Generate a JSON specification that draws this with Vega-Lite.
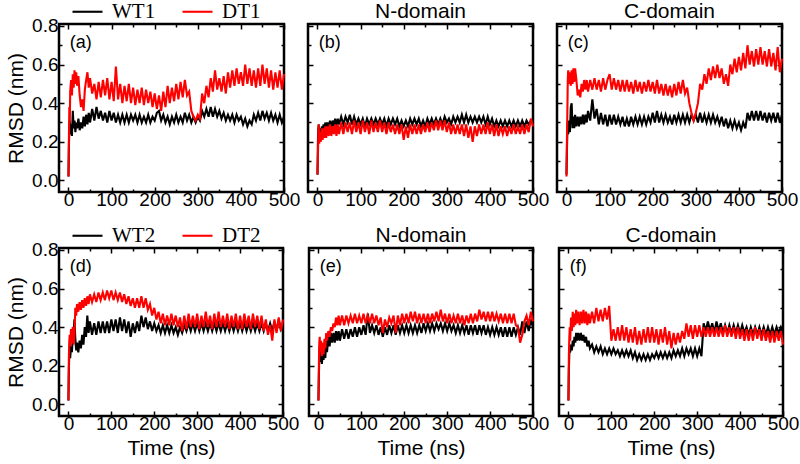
{
"$schema":"https://vega.github.io/schema/vega-lite/v6.json",
"background":"white",
"padding":{"left":4,"top":-5,"right":2,"bottom":4},
"config":{
 "view":{"stroke":"black","strokeWidth":2.5},
 "font":"Liberation Sans",
 "line":{"strokeWidth":2.1},
 "axis":{"domain":false,"grid":false,"tickColor":"black","tickWidth":1.5,"labelColor":"black","labelFont":"Liberation Sans","labelFontSize":19,"titleFont":"Liberation Sans","titleFontSize":21,"titleFontWeight":"normal","titleColor":"black","labelFlush":false,"labelOverlap":false},
 "title":{"font":"Liberation Sans","fontSize":21,"fontWeight":"normal","color":"black","offset":1,"anchor":"middle"}
},
"datasets":{
"a":[{"t":0,"w":0.02,"d":0.02},{"t":1,"w":0.18,"d":0.22},{"t":2,"w":0.27,"d":0.38},{"t":3,"w":0.31,"d":0.30},{"t":4,"w":0.24,"d":0.46},{"t":6,"w":0.29,"d":0.52},{"t":8,"w":0.23,"d":0.44},{"t":10,"w":0.36,"d":0.55},{"t":12,"w":0.27,"d":0.48},{"t":14,"w":0.31,"d":0.57},{"t":16,"w":0.25,"d":0.50},{"t":18,"w":0.30,"d":0.56},{"t":20,"w":0.27,"d":0.49},{"t":23,"w":0.32,"d":0.54},{"t":26,"w":0.26,"d":0.44},{"t":29,"w":0.30,"d":0.38},{"t":32,"w":0.27,"d":0.42},{"t":35,"w":0.33,"d":0.36},{"t":38,"w":0.28,"d":0.47},{"t":41,"w":0.34,"d":0.52},{"t":44,"w":0.29,"d":0.56},{"t":47,"w":0.35,"d":0.48},{"t":50,"w":0.30,"d":0.53},{"t":55,"w":0.37,"d":0.45},{"t":60,"w":0.31,"d":0.50},{"t":65,"w":0.38,"d":0.42},{"t":70,"w":0.32,"d":0.51},{"t":75,"w":0.36,"d":0.43},{"t":80,"w":0.31,"d":0.52},{"t":85,"w":0.35,"d":0.44},{"t":90,"w":0.30,"d":0.53},{"t":95,"w":0.36,"d":0.42},{"t":100,"w":0.31,"d":0.51},{"t":105,"w":0.35,"d":0.41},{"t":110,"w":0.30,"d":0.59},{"t":115,"w":0.34,"d":0.42},{"t":120,"w":0.30,"d":0.50},{"t":125,"w":0.34,"d":0.40},{"t":130,"w":0.30,"d":0.49},{"t":135,"w":0.34,"d":0.41},{"t":140,"w":0.30,"d":0.50},{"t":145,"w":0.34,"d":0.40},{"t":150,"w":0.31,"d":0.48},{"t":155,"w":0.34,"d":0.39},{"t":160,"w":0.30,"d":0.47},{"t":165,"w":0.34,"d":0.40},{"t":170,"w":0.30,"d":0.48},{"t":175,"w":0.33,"d":0.39},{"t":180,"w":0.30,"d":0.47},{"t":185,"w":0.34,"d":0.40},{"t":190,"w":0.30,"d":0.46},{"t":195,"w":0.33,"d":0.38},{"t":200,"w":0.31,"d":0.45},{"t":205,"w":0.35,"d":0.37},{"t":210,"w":0.36,"d":0.44},{"t":215,"w":0.31,"d":0.36},{"t":220,"w":0.34,"d":0.46},{"t":225,"w":0.30,"d":0.38},{"t":230,"w":0.33,"d":0.49},{"t":235,"w":0.29,"d":0.40},{"t":240,"w":0.33,"d":0.48},{"t":245,"w":0.30,"d":0.41},{"t":250,"w":0.34,"d":0.50},{"t":255,"w":0.30,"d":0.42},{"t":260,"w":0.33,"d":0.51},{"t":265,"w":0.30,"d":0.43},{"t":270,"w":0.35,"d":0.52},{"t":275,"w":0.31,"d":0.44},{"t":280,"w":0.34,"d":0.46},{"t":285,"w":0.30,"d":0.36},{"t":290,"w":0.33,"d":0.33},{"t":295,"w":0.30,"d":0.31},{"t":300,"w":0.33,"d":0.34},{"t":305,"w":0.31,"d":0.32},{"t":310,"w":0.36,"d":0.45},{"t":315,"w":0.33,"d":0.40},{"t":320,"w":0.37,"d":0.49},{"t":325,"w":0.33,"d":0.43},{"t":330,"w":0.38,"d":0.53},{"t":335,"w":0.33,"d":0.46},{"t":340,"w":0.37,"d":0.57},{"t":345,"w":0.33,"d":0.47},{"t":350,"w":0.36,"d":0.53},{"t":355,"w":0.32,"d":0.46},{"t":360,"w":0.35,"d":0.54},{"t":365,"w":0.31,"d":0.45},{"t":370,"w":0.34,"d":0.56},{"t":375,"w":0.31,"d":0.48},{"t":380,"w":0.34,"d":0.57},{"t":385,"w":0.30,"d":0.49},{"t":390,"w":0.34,"d":0.58},{"t":395,"w":0.31,"d":0.50},{"t":400,"w":0.33,"d":0.56},{"t":405,"w":0.29,"d":0.49},{"t":410,"w":0.32,"d":0.60},{"t":415,"w":0.28,"d":0.50},{"t":420,"w":0.31,"d":0.58},{"t":425,"w":0.29,"d":0.49},{"t":430,"w":0.34,"d":0.57},{"t":435,"w":0.31,"d":0.48},{"t":440,"w":0.35,"d":0.58},{"t":445,"w":0.31,"d":0.49},{"t":450,"w":0.36,"d":0.60},{"t":455,"w":0.32,"d":0.50},{"t":460,"w":0.35,"d":0.58},{"t":465,"w":0.31,"d":0.48},{"t":470,"w":0.35,"d":0.57},{"t":475,"w":0.31,"d":0.47},{"t":480,"w":0.34,"d":0.56},{"t":485,"w":0.30,"d":0.48},{"t":490,"w":0.34,"d":0.57},{"t":495,"w":0.30,"d":0.47},{"t":500,"w":0.33,"d":0.55}],
"b":[{"t":0,"w":0.03,"d":0.03},{"t":1,"w":0.20,"d":0.12},{"t":2,"w":0.27,"d":0.24},{"t":3,"w":0.29,"d":0.29},{"t":4,"w":0.22,"d":0.19},{"t":6,"w":0.27,"d":0.25},{"t":8,"w":0.21,"d":0.20},{"t":10,"w":0.28,"d":0.27},{"t":12,"w":0.24,"d":0.21},{"t":14,"w":0.29,"d":0.27},{"t":16,"w":0.25,"d":0.22},{"t":18,"w":0.30,"d":0.28},{"t":20,"w":0.26,"d":0.22},{"t":23,"w":0.30,"d":0.28},{"t":26,"w":0.27,"d":0.23},{"t":29,"w":0.31,"d":0.29},{"t":32,"w":0.27,"d":0.23},{"t":35,"w":0.31,"d":0.28},{"t":38,"w":0.28,"d":0.24},{"t":41,"w":0.32,"d":0.29},{"t":44,"w":0.28,"d":0.23},{"t":47,"w":0.32,"d":0.29},{"t":50,"w":0.29,"d":0.24},{"t":55,"w":0.33,"d":0.30},{"t":60,"w":0.29,"d":0.24},{"t":65,"w":0.33,"d":0.30},{"t":70,"w":0.30,"d":0.25},{"t":75,"w":0.34,"d":0.30},{"t":80,"w":0.29,"d":0.24},{"t":85,"w":0.33,"d":0.31},{"t":90,"w":0.29,"d":0.25},{"t":95,"w":0.32,"d":0.30},{"t":100,"w":0.29,"d":0.24},{"t":105,"w":0.32,"d":0.31},{"t":110,"w":0.28,"d":0.25},{"t":115,"w":0.32,"d":0.30},{"t":120,"w":0.29,"d":0.24},{"t":125,"w":0.32,"d":0.31},{"t":130,"w":0.29,"d":0.25},{"t":135,"w":0.32,"d":0.30},{"t":140,"w":0.29,"d":0.25},{"t":145,"w":0.32,"d":0.31},{"t":150,"w":0.29,"d":0.25},{"t":155,"w":0.32,"d":0.30},{"t":160,"w":0.28,"d":0.24},{"t":165,"w":0.32,"d":0.30},{"t":170,"w":0.29,"d":0.25},{"t":175,"w":0.32,"d":0.29},{"t":180,"w":0.29,"d":0.24},{"t":185,"w":0.32,"d":0.29},{"t":190,"w":0.28,"d":0.24},{"t":195,"w":0.31,"d":0.29},{"t":200,"w":0.28,"d":0.21},{"t":205,"w":0.31,"d":0.28},{"t":210,"w":0.28,"d":0.22},{"t":215,"w":0.32,"d":0.29},{"t":220,"w":0.29,"d":0.24},{"t":225,"w":0.32,"d":0.29},{"t":230,"w":0.29,"d":0.24},{"t":235,"w":0.32,"d":0.29},{"t":240,"w":0.28,"d":0.24},{"t":245,"w":0.31,"d":0.29},{"t":250,"w":0.28,"d":0.25},{"t":255,"w":0.32,"d":0.30},{"t":260,"w":0.29,"d":0.25},{"t":265,"w":0.32,"d":0.30},{"t":270,"w":0.29,"d":0.26},{"t":275,"w":0.32,"d":0.31},{"t":280,"w":0.29,"d":0.26},{"t":285,"w":0.32,"d":0.31},{"t":290,"w":0.29,"d":0.26},{"t":295,"w":0.33,"d":0.31},{"t":300,"w":0.30,"d":0.25},{"t":305,"w":0.32,"d":0.30},{"t":310,"w":0.29,"d":0.24},{"t":315,"w":0.33,"d":0.29},{"t":320,"w":0.30,"d":0.24},{"t":325,"w":0.33,"d":0.29},{"t":330,"w":0.30,"d":0.24},{"t":335,"w":0.34,"d":0.29},{"t":340,"w":0.30,"d":0.23},{"t":345,"w":0.34,"d":0.29},{"t":350,"w":0.30,"d":0.22},{"t":355,"w":0.33,"d":0.28},{"t":360,"w":0.30,"d":0.20},{"t":365,"w":0.33,"d":0.28},{"t":370,"w":0.30,"d":0.23},{"t":375,"w":0.33,"d":0.29},{"t":380,"w":0.30,"d":0.24},{"t":385,"w":0.33,"d":0.29},{"t":390,"w":0.29,"d":0.24},{"t":395,"w":0.33,"d":0.30},{"t":400,"w":0.29,"d":0.24},{"t":405,"w":0.32,"d":0.29},{"t":410,"w":0.28,"d":0.23},{"t":415,"w":0.31,"d":0.29},{"t":420,"w":0.28,"d":0.23},{"t":425,"w":0.31,"d":0.28},{"t":430,"w":0.28,"d":0.24},{"t":435,"w":0.31,"d":0.28},{"t":440,"w":0.28,"d":0.23},{"t":445,"w":0.31,"d":0.28},{"t":450,"w":0.28,"d":0.24},{"t":455,"w":0.31,"d":0.29},{"t":460,"w":0.28,"d":0.24},{"t":465,"w":0.31,"d":0.28},{"t":470,"w":0.28,"d":0.24},{"t":475,"w":0.31,"d":0.29},{"t":480,"w":0.28,"d":0.24},{"t":485,"w":0.31,"d":0.29},{"t":490,"w":0.29,"d":0.25},{"t":495,"w":0.31,"d":0.32},{"t":500,"w":0.29,"d":0.28}],
"c":[{"t":0,"w":0.03,"d":0.02},{"t":1,"w":0.15,"d":0.20},{"t":2,"w":0.26,"d":0.35},{"t":3,"w":0.30,"d":0.52},{"t":4,"w":0.24,"d":0.57},{"t":6,"w":0.31,"d":0.50},{"t":8,"w":0.25,"d":0.56},{"t":10,"w":0.38,"d":0.49},{"t":12,"w":0.40,"d":0.57},{"t":14,"w":0.27,"d":0.50},{"t":16,"w":0.33,"d":0.58},{"t":18,"w":0.27,"d":0.51},{"t":20,"w":0.34,"d":0.58},{"t":23,"w":0.28,"d":0.52},{"t":26,"w":0.33,"d":0.44},{"t":29,"w":0.28,"d":0.47},{"t":32,"w":0.33,"d":0.43},{"t":35,"w":0.29,"d":0.50},{"t":38,"w":0.34,"d":0.46},{"t":41,"w":0.29,"d":0.52},{"t":44,"w":0.34,"d":0.47},{"t":47,"w":0.30,"d":0.52},{"t":50,"w":0.36,"d":0.46},{"t":55,"w":0.31,"d":0.52},{"t":60,"w":0.42,"d":0.47},{"t":65,"w":0.32,"d":0.53},{"t":70,"w":0.37,"d":0.47},{"t":75,"w":0.29,"d":0.52},{"t":80,"w":0.35,"d":0.46},{"t":85,"w":0.29,"d":0.53},{"t":90,"w":0.34,"d":0.47},{"t":95,"w":0.28,"d":0.52},{"t":100,"w":0.34,"d":0.55},{"t":105,"w":0.29,"d":0.47},{"t":110,"w":0.34,"d":0.53},{"t":115,"w":0.29,"d":0.47},{"t":120,"w":0.33,"d":0.52},{"t":125,"w":0.29,"d":0.46},{"t":130,"w":0.33,"d":0.52},{"t":135,"w":0.28,"d":0.46},{"t":140,"w":0.32,"d":0.52},{"t":145,"w":0.28,"d":0.46},{"t":150,"w":0.33,"d":0.51},{"t":155,"w":0.29,"d":0.45},{"t":160,"w":0.33,"d":0.52},{"t":165,"w":0.29,"d":0.46},{"t":170,"w":0.33,"d":0.51},{"t":175,"w":0.29,"d":0.45},{"t":180,"w":0.33,"d":0.51},{"t":185,"w":0.29,"d":0.46},{"t":190,"w":0.33,"d":0.52},{"t":195,"w":0.30,"d":0.46},{"t":200,"w":0.35,"d":0.51},{"t":205,"w":0.30,"d":0.45},{"t":210,"w":0.36,"d":0.52},{"t":215,"w":0.30,"d":0.45},{"t":220,"w":0.34,"d":0.50},{"t":225,"w":0.30,"d":0.44},{"t":230,"w":0.34,"d":0.50},{"t":235,"w":0.30,"d":0.44},{"t":240,"w":0.33,"d":0.49},{"t":245,"w":0.29,"d":0.43},{"t":250,"w":0.34,"d":0.50},{"t":255,"w":0.30,"d":0.44},{"t":260,"w":0.34,"d":0.51},{"t":265,"w":0.30,"d":0.45},{"t":270,"w":0.34,"d":0.52},{"t":275,"w":0.30,"d":0.45},{"t":280,"w":0.34,"d":0.48},{"t":285,"w":0.30,"d":0.40},{"t":290,"w":0.34,"d":0.35},{"t":295,"w":0.31,"d":0.31},{"t":300,"w":0.34,"d":0.35},{"t":305,"w":0.30,"d":0.40},{"t":310,"w":0.35,"d":0.50},{"t":315,"w":0.30,"d":0.47},{"t":320,"w":0.34,"d":0.55},{"t":325,"w":0.30,"d":0.50},{"t":330,"w":0.34,"d":0.58},{"t":335,"w":0.30,"d":0.52},{"t":340,"w":0.34,"d":0.59},{"t":345,"w":0.30,"d":0.53},{"t":350,"w":0.33,"d":0.60},{"t":355,"w":0.29,"d":0.53},{"t":360,"w":0.33,"d":0.58},{"t":365,"w":0.28,"d":0.50},{"t":370,"w":0.32,"d":0.55},{"t":375,"w":0.27,"d":0.49},{"t":380,"w":0.31,"d":0.60},{"t":385,"w":0.27,"d":0.55},{"t":390,"w":0.31,"d":0.63},{"t":395,"w":0.27,"d":0.56},{"t":400,"w":0.30,"d":0.64},{"t":405,"w":0.26,"d":0.57},{"t":410,"w":0.30,"d":0.66},{"t":415,"w":0.27,"d":0.58},{"t":420,"w":0.35,"d":0.70},{"t":425,"w":0.31,"d":0.60},{"t":430,"w":0.36,"d":0.67},{"t":435,"w":0.31,"d":0.59},{"t":440,"w":0.36,"d":0.68},{"t":445,"w":0.31,"d":0.60},{"t":450,"w":0.36,"d":0.69},{"t":455,"w":0.31,"d":0.60},{"t":460,"w":0.35,"d":0.67},{"t":465,"w":0.30,"d":0.59},{"t":470,"w":0.35,"d":0.68},{"t":475,"w":0.31,"d":0.59},{"t":480,"w":0.35,"d":0.66},{"t":485,"w":0.30,"d":0.57},{"t":490,"w":0.35,"d":0.69},{"t":495,"w":0.30,"d":0.56},{"t":500,"w":0.34,"d":0.63}],
"d":[{"t":0,"w":0.02,"d":0.02},{"t":1,"w":0.18,"d":0.24},{"t":2,"w":0.27,"d":0.33},{"t":3,"w":0.31,"d":0.36},{"t":4,"w":0.24,"d":0.30},{"t":6,"w":0.30,"d":0.39},{"t":8,"w":0.27,"d":0.32},{"t":10,"w":0.34,"d":0.40},{"t":12,"w":0.38,"d":0.31},{"t":14,"w":0.44,"d":0.36},{"t":16,"w":0.34,"d":0.50},{"t":18,"w":0.28,"d":0.46},{"t":20,"w":0.32,"d":0.52},{"t":23,"w":0.27,"d":0.48},{"t":26,"w":0.33,"d":0.53},{"t":29,"w":0.29,"d":0.49},{"t":32,"w":0.36,"d":0.54},{"t":35,"w":0.31,"d":0.50},{"t":38,"w":0.40,"d":0.55},{"t":41,"w":0.35,"d":0.51},{"t":44,"w":0.46,"d":0.56},{"t":47,"w":0.37,"d":0.52},{"t":50,"w":0.43,"d":0.57},{"t":55,"w":0.36,"d":0.53},{"t":60,"w":0.42,"d":0.57},{"t":65,"w":0.36,"d":0.53},{"t":70,"w":0.43,"d":0.58},{"t":75,"w":0.37,"d":0.54},{"t":80,"w":0.43,"d":0.58},{"t":85,"w":0.37,"d":0.54},{"t":90,"w":0.43,"d":0.59},{"t":95,"w":0.37,"d":0.55},{"t":100,"w":0.44,"d":0.59},{"t":105,"w":0.38,"d":0.54},{"t":110,"w":0.44,"d":0.58},{"t":115,"w":0.37,"d":0.54},{"t":120,"w":0.45,"d":0.58},{"t":125,"w":0.38,"d":0.53},{"t":130,"w":0.44,"d":0.57},{"t":135,"w":0.37,"d":0.52},{"t":140,"w":0.43,"d":0.56},{"t":145,"w":0.35,"d":0.51},{"t":150,"w":0.42,"d":0.55},{"t":155,"w":0.37,"d":0.50},{"t":160,"w":0.43,"d":0.55},{"t":165,"w":0.38,"d":0.50},{"t":170,"w":0.46,"d":0.56},{"t":175,"w":0.40,"d":0.50},{"t":180,"w":0.45,"d":0.55},{"t":185,"w":0.39,"d":0.49},{"t":190,"w":0.43,"d":0.52},{"t":195,"w":0.38,"d":0.46},{"t":200,"w":0.42,"d":0.50},{"t":205,"w":0.38,"d":0.44},{"t":210,"w":0.41,"d":0.48},{"t":215,"w":0.37,"d":0.42},{"t":220,"w":0.41,"d":0.47},{"t":225,"w":0.37,"d":0.41},{"t":230,"w":0.41,"d":0.46},{"t":235,"w":0.37,"d":0.41},{"t":240,"w":0.41,"d":0.47},{"t":245,"w":0.37,"d":0.41},{"t":250,"w":0.40,"d":0.46},{"t":255,"w":0.36,"d":0.40},{"t":260,"w":0.40,"d":0.45},{"t":265,"w":0.37,"d":0.38},{"t":270,"w":0.41,"d":0.46},{"t":275,"w":0.38,"d":0.39},{"t":280,"w":0.42,"d":0.47},{"t":285,"w":0.38,"d":0.40},{"t":290,"w":0.42,"d":0.46},{"t":295,"w":0.38,"d":0.40},{"t":300,"w":0.42,"d":0.47},{"t":305,"w":0.38,"d":0.39},{"t":310,"w":0.42,"d":0.46},{"t":315,"w":0.38,"d":0.40},{"t":320,"w":0.42,"d":0.48},{"t":325,"w":0.38,"d":0.40},{"t":330,"w":0.42,"d":0.46},{"t":335,"w":0.38,"d":0.39},{"t":340,"w":0.42,"d":0.47},{"t":345,"w":0.38,"d":0.40},{"t":350,"w":0.42,"d":0.48},{"t":355,"w":0.38,"d":0.40},{"t":360,"w":0.42,"d":0.46},{"t":365,"w":0.38,"d":0.40},{"t":370,"w":0.42,"d":0.47},{"t":375,"w":0.38,"d":0.39},{"t":380,"w":0.42,"d":0.46},{"t":385,"w":0.38,"d":0.40},{"t":390,"w":0.42,"d":0.47},{"t":395,"w":0.38,"d":0.39},{"t":400,"w":0.42,"d":0.46},{"t":405,"w":0.38,"d":0.39},{"t":410,"w":0.42,"d":0.47},{"t":415,"w":0.38,"d":0.40},{"t":420,"w":0.42,"d":0.46},{"t":425,"w":0.38,"d":0.39},{"t":430,"w":0.42,"d":0.47},{"t":435,"w":0.38,"d":0.40},{"t":440,"w":0.42,"d":0.46},{"t":445,"w":0.38,"d":0.39},{"t":450,"w":0.42,"d":0.46},{"t":455,"w":0.38,"d":0.38},{"t":460,"w":0.42,"d":0.44},{"t":465,"w":0.38,"d":0.36},{"t":470,"w":0.42,"d":0.41},{"t":475,"w":0.38,"d":0.33},{"t":480,"w":0.43,"d":0.44},{"t":485,"w":0.38,"d":0.37},{"t":490,"w":0.44,"d":0.45},{"t":495,"w":0.39,"d":0.38},{"t":500,"w":0.42,"d":0.44}],
"e":[{"t":0,"w":0.02,"d":0.02},{"t":1,"w":0.14,"d":0.20},{"t":2,"w":0.26,"d":0.32},{"t":3,"w":0.30,"d":0.35},{"t":4,"w":0.22,"d":0.27},{"t":6,"w":0.28,"d":0.33},{"t":8,"w":0.21,"d":0.25},{"t":10,"w":0.27,"d":0.32},{"t":12,"w":0.23,"d":0.26},{"t":14,"w":0.30,"d":0.34},{"t":16,"w":0.24,"d":0.29},{"t":18,"w":0.33,"d":0.37},{"t":20,"w":0.27,"d":0.33},{"t":23,"w":0.35,"d":0.38},{"t":26,"w":0.30,"d":0.35},{"t":29,"w":0.37,"d":0.40},{"t":32,"w":0.32,"d":0.38},{"t":35,"w":0.37,"d":0.42},{"t":38,"w":0.32,"d":0.40},{"t":41,"w":0.38,"d":0.45},{"t":44,"w":0.33,"d":0.41},{"t":47,"w":0.38,"d":0.46},{"t":50,"w":0.33,"d":0.41},{"t":55,"w":0.39,"d":0.46},{"t":60,"w":0.34,"d":0.41},{"t":65,"w":0.39,"d":0.46},{"t":70,"w":0.34,"d":0.42},{"t":75,"w":0.39,"d":0.46},{"t":80,"w":0.35,"d":0.42},{"t":85,"w":0.40,"d":0.47},{"t":90,"w":0.35,"d":0.42},{"t":95,"w":0.40,"d":0.46},{"t":100,"w":0.36,"d":0.42},{"t":105,"w":0.41,"d":0.47},{"t":110,"w":0.36,"d":0.42},{"t":115,"w":0.47,"d":0.46},{"t":120,"w":0.37,"d":0.42},{"t":125,"w":0.41,"d":0.47},{"t":130,"w":0.37,"d":0.42},{"t":135,"w":0.41,"d":0.46},{"t":140,"w":0.36,"d":0.41},{"t":145,"w":0.40,"d":0.45},{"t":150,"w":0.35,"d":0.37},{"t":155,"w":0.40,"d":0.44},{"t":160,"w":0.36,"d":0.40},{"t":165,"w":0.41,"d":0.45},{"t":170,"w":0.37,"d":0.42},{"t":175,"w":0.41,"d":0.46},{"t":180,"w":0.36,"d":0.37},{"t":185,"w":0.41,"d":0.46},{"t":190,"w":0.37,"d":0.41},{"t":195,"w":0.41,"d":0.47},{"t":200,"w":0.37,"d":0.42},{"t":205,"w":0.41,"d":0.47},{"t":210,"w":0.37,"d":0.42},{"t":215,"w":0.41,"d":0.48},{"t":220,"w":0.37,"d":0.43},{"t":225,"w":0.41,"d":0.48},{"t":230,"w":0.37,"d":0.42},{"t":235,"w":0.41,"d":0.47},{"t":240,"w":0.37,"d":0.42},{"t":245,"w":0.42,"d":0.47},{"t":250,"w":0.38,"d":0.42},{"t":255,"w":0.42,"d":0.47},{"t":260,"w":0.38,"d":0.42},{"t":265,"w":0.42,"d":0.47},{"t":270,"w":0.38,"d":0.43},{"t":275,"w":0.42,"d":0.48},{"t":280,"w":0.39,"d":0.43},{"t":285,"w":0.42,"d":0.49},{"t":290,"w":0.38,"d":0.43},{"t":295,"w":0.42,"d":0.47},{"t":300,"w":0.38,"d":0.42},{"t":305,"w":0.42,"d":0.47},{"t":310,"w":0.38,"d":0.42},{"t":315,"w":0.41,"d":0.46},{"t":320,"w":0.37,"d":0.42},{"t":325,"w":0.41,"d":0.47},{"t":330,"w":0.37,"d":0.42},{"t":335,"w":0.41,"d":0.46},{"t":340,"w":0.37,"d":0.41},{"t":345,"w":0.41,"d":0.46},{"t":350,"w":0.36,"d":0.42},{"t":355,"w":0.41,"d":0.47},{"t":360,"w":0.37,"d":0.42},{"t":365,"w":0.41,"d":0.47},{"t":370,"w":0.36,"d":0.43},{"t":375,"w":0.41,"d":0.49},{"t":380,"w":0.37,"d":0.44},{"t":385,"w":0.41,"d":0.48},{"t":390,"w":0.36,"d":0.43},{"t":395,"w":0.40,"d":0.48},{"t":400,"w":0.36,"d":0.43},{"t":405,"w":0.40,"d":0.48},{"t":410,"w":0.36,"d":0.43},{"t":415,"w":0.40,"d":0.47},{"t":420,"w":0.36,"d":0.43},{"t":425,"w":0.40,"d":0.47},{"t":430,"w":0.35,"d":0.42},{"t":435,"w":0.40,"d":0.47},{"t":440,"w":0.35,"d":0.42},{"t":445,"w":0.40,"d":0.47},{"t":450,"w":0.35,"d":0.42},{"t":455,"w":0.40,"d":0.47},{"t":460,"w":0.36,"d":0.41},{"t":465,"w":0.40,"d":0.40},{"t":470,"w":0.36,"d":0.32},{"t":475,"w":0.43,"d":0.36},{"t":480,"w":0.37,"d":0.43},{"t":485,"w":0.43,"d":0.46},{"t":490,"w":0.38,"d":0.41},{"t":495,"w":0.44,"d":0.48},{"t":500,"w":0.40,"d":0.43}],
"f":[{"t":0,"w":0.02,"d":0.02},{"t":1,"w":0.18,"d":0.25},{"t":2,"w":0.26,"d":0.34},{"t":3,"w":0.29,"d":0.40},{"t":4,"w":0.27,"d":0.33},{"t":6,"w":0.31,"d":0.45},{"t":8,"w":0.28,"d":0.38},{"t":10,"w":0.33,"d":0.48},{"t":12,"w":0.30,"d":0.40},{"t":14,"w":0.35,"d":0.47},{"t":16,"w":0.32,"d":0.41},{"t":18,"w":0.37,"d":0.49},{"t":20,"w":0.33,"d":0.42},{"t":23,"w":0.37,"d":0.48},{"t":26,"w":0.33,"d":0.41},{"t":29,"w":0.37,"d":0.48},{"t":32,"w":0.33,"d":0.42},{"t":35,"w":0.36,"d":0.49},{"t":38,"w":0.32,"d":0.42},{"t":41,"w":0.35,"d":0.48},{"t":44,"w":0.30,"d":0.41},{"t":47,"w":0.33,"d":0.47},{"t":50,"w":0.29,"d":0.42},{"t":55,"w":0.31,"d":0.48},{"t":60,"w":0.27,"d":0.42},{"t":65,"w":0.30,"d":0.50},{"t":70,"w":0.27,"d":0.43},{"t":75,"w":0.30,"d":0.49},{"t":80,"w":0.26,"d":0.43},{"t":85,"w":0.29,"d":0.50},{"t":90,"w":0.26,"d":0.44},{"t":95,"w":0.29,"d":0.51},{"t":100,"w":0.26,"d":0.33},{"t":105,"w":0.29,"d":0.39},{"t":110,"w":0.26,"d":0.33},{"t":115,"w":0.28,"d":0.40},{"t":120,"w":0.25,"d":0.33},{"t":125,"w":0.28,"d":0.41},{"t":130,"w":0.25,"d":0.33},{"t":135,"w":0.28,"d":0.40},{"t":140,"w":0.25,"d":0.32},{"t":145,"w":0.28,"d":0.39},{"t":150,"w":0.24,"d":0.32},{"t":155,"w":0.27,"d":0.40},{"t":160,"w":0.23,"d":0.31},{"t":165,"w":0.26,"d":0.38},{"t":170,"w":0.23,"d":0.31},{"t":175,"w":0.26,"d":0.39},{"t":180,"w":0.23,"d":0.32},{"t":185,"w":0.26,"d":0.40},{"t":190,"w":0.23,"d":0.32},{"t":195,"w":0.26,"d":0.40},{"t":200,"w":0.24,"d":0.32},{"t":205,"w":0.27,"d":0.39},{"t":210,"w":0.24,"d":0.31},{"t":215,"w":0.27,"d":0.39},{"t":220,"w":0.24,"d":0.32},{"t":225,"w":0.27,"d":0.40},{"t":230,"w":0.24,"d":0.31},{"t":235,"w":0.27,"d":0.38},{"t":240,"w":0.24,"d":0.29},{"t":245,"w":0.28,"d":0.37},{"t":250,"w":0.25,"d":0.31},{"t":255,"w":0.28,"d":0.37},{"t":260,"w":0.25,"d":0.32},{"t":265,"w":0.29,"d":0.38},{"t":270,"w":0.25,"d":0.34},{"t":275,"w":0.29,"d":0.42},{"t":280,"w":0.26,"d":0.35},{"t":285,"w":0.29,"d":0.41},{"t":290,"w":0.25,"d":0.34},{"t":295,"w":0.29,"d":0.41},{"t":300,"w":0.25,"d":0.35},{"t":305,"w":0.29,"d":0.41},{"t":310,"w":0.25,"d":0.35},{"t":315,"w":0.42,"d":0.40},{"t":320,"w":0.38,"d":0.35},{"t":325,"w":0.43,"d":0.40},{"t":330,"w":0.38,"d":0.35},{"t":335,"w":0.42,"d":0.40},{"t":340,"w":0.37,"d":0.35},{"t":345,"w":0.43,"d":0.40},{"t":350,"w":0.38,"d":0.35},{"t":355,"w":0.42,"d":0.40},{"t":360,"w":0.37,"d":0.35},{"t":365,"w":0.41,"d":0.41},{"t":370,"w":0.37,"d":0.35},{"t":375,"w":0.41,"d":0.40},{"t":380,"w":0.37,"d":0.35},{"t":385,"w":0.41,"d":0.40},{"t":390,"w":0.37,"d":0.34},{"t":395,"w":0.41,"d":0.40},{"t":400,"w":0.37,"d":0.34},{"t":405,"w":0.41,"d":0.39},{"t":410,"w":0.37,"d":0.33},{"t":415,"w":0.40,"d":0.39},{"t":420,"w":0.36,"d":0.33},{"t":425,"w":0.40,"d":0.39},{"t":430,"w":0.36,"d":0.33},{"t":435,"w":0.40,"d":0.40},{"t":440,"w":0.36,"d":0.34},{"t":445,"w":0.40,"d":0.39},{"t":450,"w":0.36,"d":0.33},{"t":455,"w":0.40,"d":0.39},{"t":460,"w":0.36,"d":0.33},{"t":465,"w":0.40,"d":0.38},{"t":470,"w":0.36,"d":0.32},{"t":475,"w":0.40,"d":0.38},{"t":480,"w":0.36,"d":0.32},{"t":485,"w":0.40,"d":0.38},{"t":490,"w":0.37,"d":0.33},{"t":495,"w":0.40,"d":0.38},{"t":500,"w":0.37,"d":0.31}]
},
"spacing":8,
"resolve":{"scale":{"color":"independent"},"legend":{"color":"independent"}},
"vconcat":[
{"spacing":24,"bounds":"flush","hconcat":[
 {"width":225,"height":168,"resolve":{"axis":{"x":"independent","y":"independent"}},"layer":[
  {"data":{"name":"a"},"mark":"line","encoding":{
   "x":{"field":"t","type":"quantitative","scale":{"domain":[-22,500],"nice":false,"zero":false},"axis":{"orient":"bottom","values":[0,100,200,300,400,500],"tickSize":-5,"labelPadding":3,"title":null}},
   "y":{"field":"w","type":"quantitative","scale":{"domain":[-0.06,0.81],"nice":false,"zero":false},"axis":{"orient":"left","values":[0,0.2,0.4,0.6,0.8],"format":".1f","tickSize":-5,"labelPadding":6,"title":"RMSD (nm)","titlePadding":5}},
   "color":{"datum":"WT1","type":"nominal","scale":{"domain":["WT1","DT1"],"range":["black","red"]},"legend":{"orient":"none","legendX":12,"legendY":-29,"direction":"horizontal","title":null,"symbolType":"stroke","symbolSize":900,"symbolStrokeWidth":1.5,"labelFont":"Liberation Serif","labelFontSize":21,"labelColor":"black","labelOffset":8,"columnPadding":22,"padding":0}}}},
  {"data":{"name":"a"},"mark":"line","encoding":{
   "x":{"field":"t","type":"quantitative","axis":{"orient":"top","values":[0,100,200,300,400,500],"tickSize":-5,"labels":false,"title":null}},
   "y":{"field":"d","type":"quantitative","axis":{"orient":"right","values":[0,0.2,0.4,0.6,0.8],"tickSize":-5,"labels":false,"title":null}},
   "color":{"datum":"DT1","type":"nominal"}}},
  {"data":{"values":[{"t":3,"v":0.71,"lab":"(a)"}]},"mark":{"type":"text","align":"left","baseline":"middle","fontSize":18,"color":"black"},"encoding":{
   "x":{"field":"t","type":"quantitative","axis":{"orient":"bottom","values":[50,150,250,350,450],"tickSize":-3,"labels":false,"title":null}},
   "y":{"field":"v","type":"quantitative","axis":{"orient":"left","values":[0.1,0.3,0.5,0.7],"tickSize":-3,"labels":false,"title":null}},
   "text":{"field":"lab"}}},
  {"data":{"values":[{"t":3,"v":0.71}]},"mark":{"type":"point","opacity":0},"encoding":{
   "x":{"field":"t","type":"quantitative","axis":{"orient":"top","values":[50,150,250,350,450],"tickSize":-3,"labels":false,"title":null}},
   "y":{"field":"v","type":"quantitative","axis":{"orient":"right","values":[0.1,0.3,0.5,0.7],"tickSize":-3,"labels":false,"title":null}}}}
 ]},
 {"width":225,"height":168,"title":"N-domain","resolve":{"axis":{"x":"independent","y":"independent"}},"layer":[
  {"data":{"name":"b"},"mark":{"type":"line","color":"black"},"encoding":{
   "x":{"field":"t","type":"quantitative","scale":{"domain":[-22,500],"nice":false,"zero":false},"axis":{"orient":"bottom","values":[0,100,200,300,400,500],"tickSize":-5,"labelPadding":3,"title":null}},
   "y":{"field":"w","type":"quantitative","scale":{"domain":[-0.06,0.81],"nice":false,"zero":false},"axis":{"orient":"left","values":[0,0.2,0.4,0.6,0.8],"tickSize":-5,"labels":false,"title":null}}}},
  {"data":{"name":"b"},"mark":{"type":"line","color":"red"},"encoding":{
   "x":{"field":"t","type":"quantitative","axis":{"orient":"top","values":[0,100,200,300,400,500],"tickSize":-5,"labels":false,"title":null}},
   "y":{"field":"d","type":"quantitative","axis":{"orient":"right","values":[0,0.2,0.4,0.6,0.8],"tickSize":-5,"labels":false,"title":null}}}},
  {"data":{"values":[{"t":3,"v":0.71,"lab":"(b)"}]},"mark":{"type":"text","align":"left","baseline":"middle","fontSize":18,"color":"black"},"encoding":{
   "x":{"field":"t","type":"quantitative","axis":{"orient":"bottom","values":[50,150,250,350,450],"tickSize":-3,"labels":false,"title":null}},
   "y":{"field":"v","type":"quantitative","axis":{"orient":"left","values":[0.1,0.3,0.5,0.7],"tickSize":-3,"labels":false,"title":null}},
   "text":{"field":"lab"}}},
  {"data":{"values":[{"t":3,"v":0.71}]},"mark":{"type":"point","opacity":0},"encoding":{
   "x":{"field":"t","type":"quantitative","axis":{"orient":"top","values":[50,150,250,350,450],"tickSize":-3,"labels":false,"title":null}},
   "y":{"field":"v","type":"quantitative","axis":{"orient":"right","values":[0.1,0.3,0.5,0.7],"tickSize":-3,"labels":false,"title":null}}}}
 ]},
 {"width":225,"height":168,"title":"C-domain","resolve":{"axis":{"x":"independent","y":"independent"}},"layer":[
  {"data":{"name":"c"},"mark":{"type":"line","color":"black"},"encoding":{
   "x":{"field":"t","type":"quantitative","scale":{"domain":[-22,500],"nice":false,"zero":false},"axis":{"orient":"bottom","values":[0,100,200,300,400,500],"tickSize":-5,"labelPadding":3,"title":null}},
   "y":{"field":"w","type":"quantitative","scale":{"domain":[-0.06,0.81],"nice":false,"zero":false},"axis":{"orient":"left","values":[0,0.2,0.4,0.6,0.8],"tickSize":-5,"labels":false,"title":null}}}},
  {"data":{"name":"c"},"mark":{"type":"line","color":"red"},"encoding":{
   "x":{"field":"t","type":"quantitative","axis":{"orient":"top","values":[0,100,200,300,400,500],"tickSize":-5,"labels":false,"title":null}},
   "y":{"field":"d","type":"quantitative","axis":{"orient":"right","values":[0,0.2,0.4,0.6,0.8],"tickSize":-5,"labels":false,"title":null}}}},
  {"data":{"values":[{"t":3,"v":0.71,"lab":"(c)"}]},"mark":{"type":"text","align":"left","baseline":"middle","fontSize":18,"color":"black"},"encoding":{
   "x":{"field":"t","type":"quantitative","axis":{"orient":"bottom","values":[50,150,250,350,450],"tickSize":-3,"labels":false,"title":null}},
   "y":{"field":"v","type":"quantitative","axis":{"orient":"left","values":[0.1,0.3,0.5,0.7],"tickSize":-3,"labels":false,"title":null}},
   "text":{"field":"lab"}}},
  {"data":{"values":[{"t":3,"v":0.71}]},"mark":{"type":"point","opacity":0},"encoding":{
   "x":{"field":"t","type":"quantitative","axis":{"orient":"top","values":[50,150,250,350,450],"tickSize":-3,"labels":false,"title":null}},
   "y":{"field":"v","type":"quantitative","axis":{"orient":"right","values":[0.1,0.3,0.5,0.7],"tickSize":-3,"labels":false,"title":null}}}}
 ]}
]},
{"spacing":26,"bounds":"flush","hconcat":[
 {"width":224,"height":168,"resolve":{"axis":{"x":"independent","y":"independent"}},"layer":[
  {"data":{"name":"d"},"mark":"line","encoding":{
   "x":{"field":"t","type":"quantitative","scale":{"domain":[-22,500],"nice":false,"zero":false},"axis":{"orient":"bottom","values":[0,100,200,300,400,500],"tickSize":-5,"labelPadding":3,"title":"Time (ns)","titlePadding":4}},
   "y":{"field":"w","type":"quantitative","scale":{"domain":[-0.06,0.81],"nice":false,"zero":false},"axis":{"orient":"left","values":[0,0.2,0.4,0.6,0.8],"format":".1f","tickSize":-5,"labelPadding":6,"title":"RMSD (nm)","titlePadding":5}},
   "color":{"datum":"WT2","type":"nominal","scale":{"domain":["WT2","DT2"],"range":["black","red"]},"legend":{"orient":"none","legendX":12,"legendY":-29,"direction":"horizontal","title":null,"symbolType":"stroke","symbolSize":900,"symbolStrokeWidth":1.5,"labelFont":"Liberation Serif","labelFontSize":21,"labelColor":"black","labelOffset":8,"columnPadding":22,"padding":0}}}},
  {"data":{"name":"d"},"mark":"line","encoding":{
   "x":{"field":"t","type":"quantitative","axis":{"orient":"top","values":[0,100,200,300,400,500],"tickSize":-5,"labels":false,"title":null}},
   "y":{"field":"d","type":"quantitative","axis":{"orient":"right","values":[0,0.2,0.4,0.6,0.8],"tickSize":-5,"labels":false,"title":null}},
   "color":{"datum":"DT2","type":"nominal"}}},
  {"data":{"values":[{"t":3,"v":0.71,"lab":"(d)"}]},"mark":{"type":"text","align":"left","baseline":"middle","fontSize":18,"color":"black"},"encoding":{
   "x":{"field":"t","type":"quantitative","axis":{"orient":"bottom","values":[50,150,250,350,450],"tickSize":-3,"labels":false,"title":null}},
   "y":{"field":"v","type":"quantitative","axis":{"orient":"left","values":[0.1,0.3,0.5,0.7],"tickSize":-3,"labels":false,"title":null}},
   "text":{"field":"lab"}}},
  {"data":{"values":[{"t":3,"v":0.71}]},"mark":{"type":"point","opacity":0},"encoding":{
   "x":{"field":"t","type":"quantitative","axis":{"orient":"top","values":[50,150,250,350,450],"tickSize":-3,"labels":false,"title":null}},
   "y":{"field":"v","type":"quantitative","axis":{"orient":"right","values":[0.1,0.3,0.5,0.7],"tickSize":-3,"labels":false,"title":null}}}}
 ]},
 {"width":224,"height":168,"title":"N-domain","resolve":{"axis":{"x":"independent","y":"independent"}},"layer":[
  {"data":{"name":"e"},"mark":{"type":"line","color":"black"},"encoding":{
   "x":{"field":"t","type":"quantitative","scale":{"domain":[-22,500],"nice":false,"zero":false},"axis":{"orient":"bottom","values":[0,100,200,300,400,500],"tickSize":-5,"labelPadding":3,"title":"Time (ns)","titlePadding":4}},
   "y":{"field":"w","type":"quantitative","scale":{"domain":[-0.06,0.81],"nice":false,"zero":false},"axis":{"orient":"left","values":[0,0.2,0.4,0.6,0.8],"tickSize":-5,"labels":false,"title":null}}}},
  {"data":{"name":"e"},"mark":{"type":"line","color":"red"},"encoding":{
   "x":{"field":"t","type":"quantitative","axis":{"orient":"top","values":[0,100,200,300,400,500],"tickSize":-5,"labels":false,"title":null}},
   "y":{"field":"d","type":"quantitative","axis":{"orient":"right","values":[0,0.2,0.4,0.6,0.8],"tickSize":-5,"labels":false,"title":null}}}},
  {"data":{"values":[{"t":3,"v":0.71,"lab":"(e)"}]},"mark":{"type":"text","align":"left","baseline":"middle","fontSize":18,"color":"black"},"encoding":{
   "x":{"field":"t","type":"quantitative","axis":{"orient":"bottom","values":[50,150,250,350,450],"tickSize":-3,"labels":false,"title":null}},
   "y":{"field":"v","type":"quantitative","axis":{"orient":"left","values":[0.1,0.3,0.5,0.7],"tickSize":-3,"labels":false,"title":null}},
   "text":{"field":"lab"}}},
  {"data":{"values":[{"t":3,"v":0.71}]},"mark":{"type":"point","opacity":0},"encoding":{
   "x":{"field":"t","type":"quantitative","axis":{"orient":"top","values":[50,150,250,350,450],"tickSize":-3,"labels":false,"title":null}},
   "y":{"field":"v","type":"quantitative","axis":{"orient":"right","values":[0.1,0.3,0.5,0.7],"tickSize":-3,"labels":false,"title":null}}}}
 ]},
 {"width":224,"height":168,"title":"C-domain","resolve":{"axis":{"x":"independent","y":"independent"}},"layer":[
  {"data":{"name":"f"},"mark":{"type":"line","color":"black"},"encoding":{
   "x":{"field":"t","type":"quantitative","scale":{"domain":[-22,500],"nice":false,"zero":false},"axis":{"orient":"bottom","values":[0,100,200,300,400,500],"tickSize":-5,"labelPadding":3,"title":"Time (ns)","titlePadding":4}},
   "y":{"field":"w","type":"quantitative","scale":{"domain":[-0.06,0.81],"nice":false,"zero":false},"axis":{"orient":"left","values":[0,0.2,0.4,0.6,0.8],"tickSize":-5,"labels":false,"title":null}}}},
  {"data":{"name":"f"},"mark":{"type":"line","color":"red"},"encoding":{
   "x":{"field":"t","type":"quantitative","axis":{"orient":"top","values":[0,100,200,300,400,500],"tickSize":-5,"labels":false,"title":null}},
   "y":{"field":"d","type":"quantitative","axis":{"orient":"right","values":[0,0.2,0.4,0.6,0.8],"tickSize":-5,"labels":false,"title":null}}}},
  {"data":{"values":[{"t":3,"v":0.71,"lab":"(f)"}]},"mark":{"type":"text","align":"left","baseline":"middle","fontSize":18,"color":"black"},"encoding":{
   "x":{"field":"t","type":"quantitative","axis":{"orient":"bottom","values":[50,150,250,350,450],"tickSize":-3,"labels":false,"title":null}},
   "y":{"field":"v","type":"quantitative","axis":{"orient":"left","values":[0.1,0.3,0.5,0.7],"tickSize":-3,"labels":false,"title":null}},
   "text":{"field":"lab"}}},
  {"data":{"values":[{"t":3,"v":0.71}]},"mark":{"type":"point","opacity":0},"encoding":{
   "x":{"field":"t","type":"quantitative","axis":{"orient":"top","values":[50,150,250,350,450],"tickSize":-3,"labels":false,"title":null}},
   "y":{"field":"v","type":"quantitative","axis":{"orient":"right","values":[0.1,0.3,0.5,0.7],"tickSize":-3,"labels":false,"title":null}}}}
 ]}
]}
]
}
